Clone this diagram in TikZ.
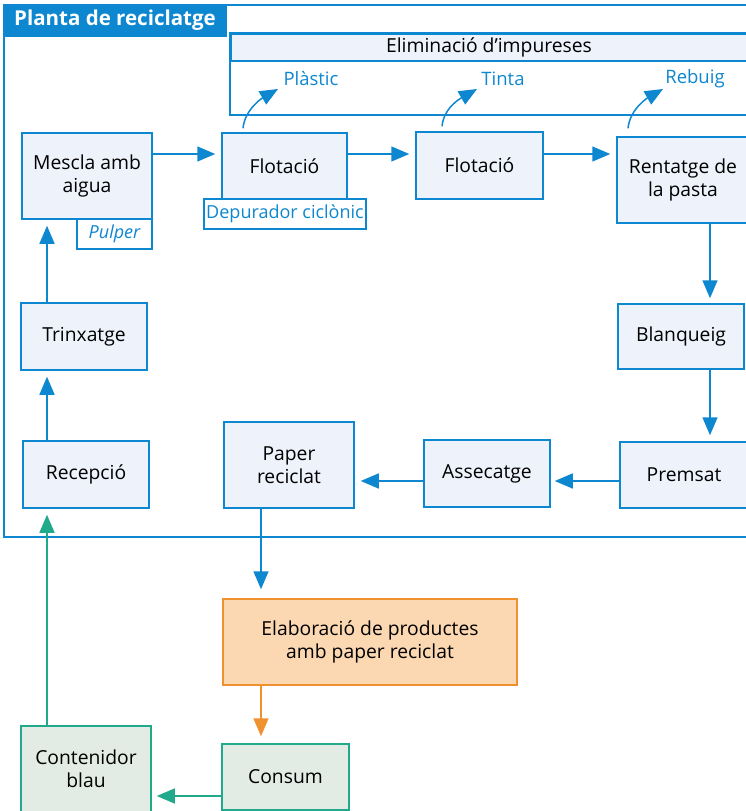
\documentclass[tikz,border=0pt]{standalone}
\usepackage{fontspec}
\setmainfont{Open Sans}
\usetikzlibrary{arrows.meta}
\definecolor{bl}{HTML}{0D87CF}
\definecolor{bfill}{HTML}{EEF2FA}
\definecolor{ofill}{HTML}{FBD7B2}
\definecolor{ostroke}{HTML}{F0912F}
\definecolor{gfill}{HTML}{E2EBE4}
\definecolor{gstroke}{HTML}{20A98B}
\tikzset{
  box/.style={draw=bl, fill=bfill, line width=1.5pt, align=center, inner sep=0pt,
    font=\fontsize{19.3}{23.5}\selectfont},
  tagbox/.style={draw=bl, fill=white, line width=1.5pt, inner sep=0pt, text=bl,
    font=\fontsize{18}{22}\selectfont},
  obox/.style={box, draw=ostroke, fill=ofill},
  gbox/.style={box, draw=gstroke, fill=gfill},
  lbl/.style={text=bl, inner sep=0pt, font=\fontsize{18.5}{22}\selectfont},
  arr/.style={draw=bl, line width=1.5pt, -{Triangle[length=18pt,width=15pt]}},
  oarr/.style={arr, draw=ostroke, -{Triangle[length=18pt,width=15pt,fill=ostroke]}},
  garr/.style={arr, draw=gstroke, -{Triangle[length=18pt,width=15pt,fill=gstroke]}},
}
\begin{document}
\begin{tikzpicture}[x=1pt,y=-1pt]
\clip (0,0) rectangle (746,811);
\fill[white] (0,0) rectangle (746,811);
% outer frame
\draw[bl, line width=1.5pt] (4,5) rectangle (760,537);
\node[fill=bl, draw=bl, line width=1.5pt, minimum width=222pt, minimum height=31pt, inner sep=0pt,
  text=white, font=\fontsize{20.5}{24}\bfseries\selectfont] (title) at (115,20.5) {Planta de reciclatge};
% eliminacio box
\draw[bl, line width=1.5pt, fill=white] (230,33) rectangle (760,115);
\node[draw=bl, fill=bfill, line width=1.5pt, minimum width=530pt, minimum height=27pt, inner sep=0pt,
  anchor=north west] (elim) at (230,33) {};
\node[inner sep=0pt, font=\fontsize{19.3}{23}\selectfont] (elimt) at (489,47) {Eliminació d’impureses};
\node[lbl] (plas) at (311,79) {Plàstic};
\node[lbl] (tinta) at (503,79) {Tinta};
\node[lbl] (rebuig) at (695,79) {Rebuig};

% boxes
\node[box, minimum width=130pt, minimum height=86pt] (mescla) at (87,176) {Mescla amb\\aigua};
\node[tagbox, minimum width=75pt, minimum height=30pt, font=\fontsize{18}{22}\itshape\selectfont] (pulper) at (114.5,234) {Pulper};
\node[box, minimum width=125pt, minimum height=66pt] (flot1) at (284.5,166) {Flotació};
\node[tagbox, minimum width=162pt, minimum height=30pt] (depur) at (285,214) {Depurador ciclònic};
\node[box, minimum width=127pt, minimum height=67pt] (flot2) at (479.5,165.5) {Flotació};
\node[box, minimum width=132pt, minimum height=86pt] (rent) at (683,180) {Rentatge de\\la pasta};
\node[box, minimum width=126pt, minimum height=65pt] (blanq) at (681,336.5) {Blanqueig};
\node[box, minimum width=128pt, minimum height=66pt] (prem) at (684,475) {Premsat};
\node[box, minimum width=126pt, minimum height=67pt] (assec) at (487,473.5) {Assecatge};
\node[box, minimum width=130pt, minimum height=86pt] (paper) at (289,465) {Paper\\reciclat};
\node[box, minimum width=126pt, minimum height=67pt] (recep) at (86,474.5) {Recepció};
\node[box, minimum width=126pt, minimum height=67pt] (trinx) at (84,336.5) {Trinxatge};
\node[obox, minimum width=294pt, minimum height=86pt] (elab) at (370,642) {Elaboració de productes\\amb paper reciclat};
\node[gbox, minimum width=130pt, minimum height=86pt] (cont) at (86,769) {Contenidor\\blau};
\node[gbox, minimum width=127pt, minimum height=66pt] (consum) at (285.5,777) {Consum};

% arrow levels
\coordinate (h1) at (0,154);
\coordinate (h2) at (0,481);
\coordinate (h3) at (0,796);
\coordinate (v1) at (710,0);
\coordinate (v2) at (261,0);
\coordinate (v3) at (47,0);

\draw[arr, shorten >=6pt] (mescla.east |- h1) -- (flot1.west |- h1);
\draw[arr, shorten >=6pt] (flot1.east |- h1) -- (flot2.west |- h1);
\draw[arr, shorten >=6pt] (flot2.east |- h1) -- (rent.west |- h1);
\draw[arr, shorten >=5pt] (rent.south -| v1) -- (blanq.north -| v1);
\draw[arr, shorten >=6pt] (blanq.south -| v1) -- (prem.north -| v1);
\draw[arr, shorten >=4pt] (prem.west |- h2) -- (assec.east |- h2);
\draw[arr, shorten >=6pt] (assec.west |- h2) -- (paper.east |- h2);
\draw[arr, shorten >=9pt] (paper.south -| v2) -- (elab.north -| v2);
\draw[oarr, shorten >=7pt] (elab.south -| v2) -- (consum.north -| v2);
\draw[garr, shorten >=5pt] (consum.west |- h3) -- (cont.east |- h3);
\draw[garr, shorten >=6pt] (cont.north -| v3) -- (recep.south -| v3);
\draw[arr, shorten >=6pt] (recep.north -| v3) -- (trinx.south -| v3);
\draw[arr, shorten >=6pt] (trinx.north -| v3) -- (mescla.south -| v3);

% curved arrows
\coordinate (s1) at ([xshift=-41.5pt,yshift=4pt]flot1.north);
\coordinate (e1) at ([xshift=-33pt,yshift=-10pt]plas.center);
\coordinate (s2) at ([xshift=-37.5pt,yshift=5pt]flot2.north);
\coordinate (e2) at ([xshift=-26pt,yshift=-10pt]tinta.center);
\coordinate (s3) at ([xshift=-55pt,yshift=8pt]rent.north);
\coordinate (e3) at ([xshift=-32pt,yshift=-10pt]rebuig.center);
\draw[arr] (s1) .. controls ([shift={(2,-20)}]s1) and ([shift={(-14,8)}]e1) .. (e1);
\draw[arr] (s2) .. controls ([shift={(2,-20)}]s2) and ([shift={(-14,8)}]e2) .. (e2);
\draw[arr] (s3) .. controls ([shift={(2,-20)}]s3) and ([shift={(-14,8)}]e3) .. (e3);
\end{tikzpicture}
\end{document}
